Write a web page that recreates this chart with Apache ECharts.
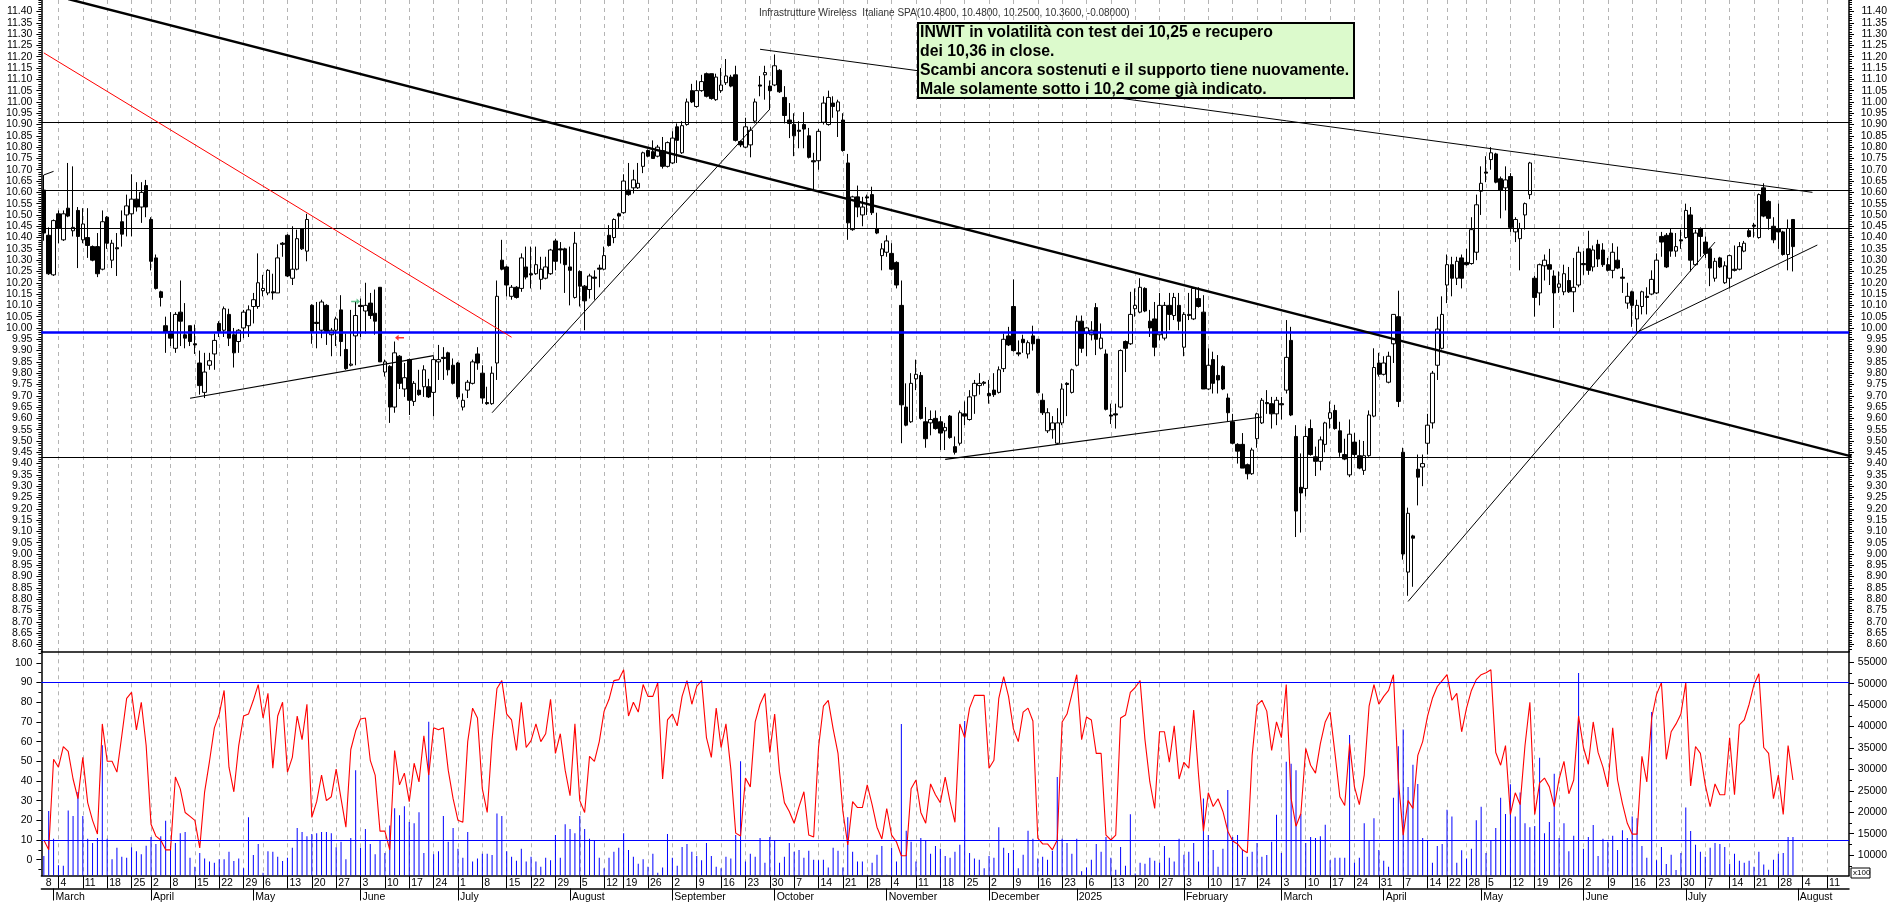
<!DOCTYPE html>
<html>
<head>
<meta charset="utf-8">
<title>INWIT</title>
<script src="https://cdn.jsdelivr.net/npm/echarts@6/dist/echarts.min.js"></script>
<style>
html,body{margin:0;padding:0;background:#fff;overflow:hidden}
#chart{width:1890px;height:903px}
</style>
</head>
<body>
<div id="chart"></div>
<script>
// candele giornaliere (10 valori per riga)
var opens = [
10.61,10.41,10.235,10.505,10.39,10.53,10.43,10.52,10.39,10.40,
10.36,10.36,10.26,10.49,10.30,10.355,10.47,10.50,10.505,10.57,
10.535,10.63,10.48,10.31,10.16,10.01,9.985,9.91,10.07,9.97,
10.01,9.93,9.845,9.715,9.835,9.885,10.02,9.99,10.06,9.97,
9.94,10.0,10.01,10.095,10.095,10.165,10.155,10.16,10.155,10.375,
10.41,10.22,10.26,10.44,10.34,10.10,10.025,9.99,10.10,9.97,
9.99,10.08,9.905,9.835,9.965,10.10,10.075,10.11,10.065,10.18,
9.805,9.83,9.65,9.875,9.73,9.86,9.675,9.725,9.74,9.74,
9.715,9.85,9.87,9.89,9.835,9.845,9.65,9.725,9.755,9.885,
9.80,9.67,9.665,9.845,10.30,10.27,10.14,10.18,10.175,10.27,
10.24,10.24,10.215,10.22,10.24,10.385,10.35,10.35,10.27,10.135,
10.25,10.185,10.17,10.225,10.265,10.26,10.41,10.40,10.505,10.51,
10.61,10.62,10.62,10.715,10.785,10.78,10.76,10.785,10.715,10.73,
10.89,10.775,10.90,11.05,10.98,11.05,11.125,11.125,11.01,11.05,
11.085,11.11,11.12,10.825,10.80,10.81,10.915,11.075,11.12,11.07,
11.075,11.14,11.02,10.92,10.90,10.875,10.90,10.85,10.74,10.74,
10.91,10.90,10.995,10.96,10.92,10.73,10.435,10.58,10.50,10.58,
10.59,10.44,10.32,10.335,10.33,10.29,10.10,9.65,9.585,9.775,
9.79,9.585,9.58,9.60,9.585,9.545,9.61,9.475,9.49,9.62,
9.595,9.70,9.745,9.76,9.71,9.725,9.715,9.82,9.965,10.095,
9.89,9.95,9.885,9.965,9.95,9.68,9.545,9.55,9.49,9.58,
9.755,9.715,9.835,10.03,9.975,9.97,10.09,9.91,9.885,9.615,
9.62,9.65,9.94,9.93,10.085,10.07,10.175,10.03,10.04,9.97,
9.955,10.10,10.055,10.10,9.915,10.06,10.04,10.13,10.07,9.73,
9.86,9.79,9.83,9.69,9.585,9.485,9.485,9.395,9.355,9.51,
9.58,9.67,9.665,9.62,9.665,9.725,9.945,9.52,9.295,9.29,
9.555,9.43,9.41,9.485,9.60,9.635,9.545,9.44,9.35,9.495,
9.435,9.37,9.435,9.61,9.845,9.795,9.76,9.93,10.05,9.45,
8.92,9.08,9.375,9.385,9.49,9.58,9.835,9.91,10.19,10.28,
10.22,10.31,10.29,10.285,10.335,10.605,10.69,10.745,10.77,10.66,
10.62,10.67,10.425,10.395,10.50,10.59,10.22,10.155,10.275,10.28,
10.23,10.18,10.16,10.21,10.16,10.19,10.285,10.35,10.27,10.37,
10.345,10.28,10.255,10.30,10.225,10.11,10.16,10.04,10.095,10.14,
10.15,10.155,10.405,10.41,10.42,10.34,10.39,10.40,10.50,10.28,
10.44,10.38,10.35,10.22,10.31,10.20,10.22,10.26,10.26,10.34,
10.43,10.455,10.40,10.62,10.56,10.45,10.44,10.425,10.325,10.48
];
var closes = [
10.42,10.24,10.475,10.44,10.505,10.495,10.445,10.405,10.46,10.365,
10.30,10.24,10.47,10.375,10.375,10.35,10.415,10.54,10.57,10.535,
10.60,10.535,10.295,10.175,10.135,9.98,9.955,10.06,10.03,9.955,
9.94,9.925,9.745,9.805,9.855,9.945,9.985,10.085,9.955,9.89,
9.99,10.07,10.08,10.125,10.20,10.175,10.255,10.155,10.31,10.37,
10.23,10.26,10.395,10.35,10.48,9.985,10.02,10.115,9.985,9.99,
10.04,9.94,9.82,9.84,10.055,10.095,10.10,10.055,10.03,9.85,
9.85,9.65,9.89,9.755,9.78,9.68,9.755,9.705,9.815,9.695,
9.86,9.86,9.865,9.815,9.755,9.695,9.68,9.76,9.85,9.845,
9.69,9.665,9.80,10.14,10.26,10.19,10.18,10.135,10.31,10.225,
10.235,10.28,10.26,10.27,10.345,10.295,10.345,10.28,10.255,10.375,
10.185,10.12,10.23,10.22,10.26,10.32,10.365,10.48,10.495,10.65,
10.59,10.655,10.64,10.775,10.76,10.75,10.80,10.715,10.82,10.84,
10.83,10.895,11.0,11.0,11.05,11.09,11.025,11.015,11.11,11.075,
11.115,11.07,10.83,10.81,10.89,10.875,11.0,11.07,11.13,11.05,
11.16,11.045,10.94,10.905,10.85,10.87,10.88,10.755,10.735,10.87,
10.995,11.02,10.98,11.0,10.785,10.465,10.58,10.535,10.535,10.575,
10.51,10.42,10.35,10.385,10.26,10.19,9.66,9.57,9.755,9.795,
9.60,9.51,9.595,9.555,9.535,9.56,9.515,9.45,9.625,9.61,
9.695,9.755,9.755,9.755,9.70,9.705,9.815,9.95,9.925,9.90,
9.885,9.935,9.935,9.93,9.715,9.625,9.625,9.58,9.58,9.73,
9.75,9.815,10.03,9.91,10.0,9.99,9.95,9.955,9.64,9.61,
9.615,9.90,9.91,10.06,10.10,10.18,10.075,10.0,9.915,10.10,
10.10,10.06,10.135,10.03,10.06,10.055,10.175,10.095,9.73,9.835,
9.755,9.77,9.73,9.625,9.49,9.455,9.38,9.355,9.46,9.62,
9.68,9.665,9.62,9.68,9.66,9.87,9.615,9.19,9.27,9.52,
9.44,9.41,9.505,9.58,9.625,9.555,9.45,9.42,9.53,9.44,
9.38,9.435,9.615,9.825,9.795,9.845,9.875,10.06,9.675,9.0,
9.18,9.07,9.34,9.40,9.57,9.80,9.995,10.06,10.28,10.22,
10.295,10.22,10.28,10.435,10.545,10.64,10.685,10.775,10.645,10.61,
10.655,10.445,10.48,10.44,10.55,10.73,10.135,10.28,10.30,10.26,
10.155,10.195,10.24,10.16,10.18,10.335,10.28,10.255,10.345,10.305,
10.28,10.255,10.335,10.265,10.22,10.14,10.10,10.10,10.16,10.135,
10.215,10.30,10.38,10.27,10.34,10.36,10.385,10.52,10.30,10.42,
10.405,10.33,10.265,10.295,10.27,10.275,10.32,10.255,10.36,10.375,
10.405,10.45,10.59,10.495,10.485,10.39,10.425,10.325,10.44,10.36
];
var lows = [
10.386,10.235,10.23,10.375,10.385,10.49,10.405,10.265,10.375,10.31,
10.295,10.225,10.255,10.35,10.265,10.23,10.36,10.405,10.405,10.515,
10.465,10.49,10.255,10.17,10.095,9.89,9.92,9.89,9.92,9.91,
9.92,9.885,9.705,9.69,9.815,9.815,9.96,9.96,9.92,9.825,
9.89,9.955,9.96,10.02,10.085,10.14,10.145,10.125,10.155,10.315,
10.225,10.19,10.255,10.345,10.295,9.93,9.91,9.955,9.925,9.875,
9.92,9.875,9.815,9.83,9.835,9.96,9.975,10.04,9.97,9.85,
9.785,9.58,9.625,9.73,9.695,9.615,9.655,9.70,9.695,9.69,
9.61,9.77,9.77,9.79,9.75,9.685,9.635,9.69,9.75,9.815,
9.665,9.66,9.66,9.77,10.255,10.14,10.125,10.13,10.16,10.215,
10.175,10.235,10.17,10.215,10.235,10.255,10.285,10.155,10.10,10.13,
10.095,9.99,10.13,10.125,10.18,10.255,10.36,10.375,10.44,10.505,
10.585,10.595,10.615,10.685,10.755,10.75,10.755,10.705,10.71,10.725,
10.73,10.77,10.895,10.995,10.975,11.045,11.02,11.01,11.005,11.04,
11.075,11.065,10.825,10.80,10.795,10.755,10.905,11.025,11.01,10.965,
11.07,11.04,10.905,10.84,10.76,10.795,10.795,10.75,10.61,10.70,
10.90,10.895,10.93,10.845,10.78,10.39,10.43,10.49,10.45,10.50,
10.50,10.415,10.255,10.315,10.255,10.175,9.49,9.565,9.58,9.725,
9.595,9.47,9.525,9.55,9.46,9.46,9.51,9.44,9.48,9.57,
9.59,9.62,9.705,9.745,9.665,9.695,9.71,9.805,9.92,9.895,
9.875,9.89,9.865,9.90,9.71,9.615,9.535,9.51,9.485,9.57,
9.61,9.71,9.83,9.89,9.875,9.945,9.88,9.905,9.635,9.575,
9.555,9.645,9.805,9.925,10.05,10.065,10.07,9.96,9.875,9.945,
9.945,9.99,10.035,9.99,9.875,10.035,10.035,10.09,9.73,9.725,
9.71,9.71,9.725,9.585,9.485,9.40,9.38,9.33,9.35,9.47,
9.575,9.62,9.555,9.57,9.595,9.71,9.61,9.075,9.095,9.255,
9.435,9.345,9.37,9.45,9.555,9.55,9.43,9.415,9.34,9.43,
9.375,9.35,9.43,9.605,9.785,9.79,9.755,9.845,9.65,8.975,
8.815,8.855,9.215,9.30,9.44,9.555,9.77,9.905,10.11,10.14,
10.19,10.175,10.275,10.28,10.30,10.50,10.645,10.70,10.64,10.485,
10.52,10.425,10.38,10.255,10.435,10.57,10.05,10.10,10.21,10.19,
10.0,10.155,10.145,10.155,10.07,10.18,10.235,10.235,10.25,10.27,
10.27,10.25,10.22,10.26,10.155,10.085,10.005,9.98,10.06,10.06,
10.145,10.15,10.315,10.265,10.315,10.315,10.35,10.395,10.25,10.275,
10.315,10.31,10.185,10.205,10.265,10.195,10.175,10.25,10.255,10.335,
10.40,10.40,10.395,10.49,10.435,10.375,10.35,10.32,10.255,10.25
];
var highs = [
10.677,10.445,10.48,10.52,10.52,10.73,10.715,10.535,10.53,10.53,
10.365,10.42,10.52,10.495,10.39,10.42,10.52,10.59,10.68,10.645,
10.645,10.655,10.49,10.325,10.165,10.05,10.07,10.07,10.21,10.11,
10.01,10.015,9.90,9.89,9.89,9.975,10.03,10.095,10.085,10.0,
9.995,10.08,10.10,10.155,10.33,10.235,10.26,10.24,10.37,10.38,
10.415,10.45,10.435,10.44,10.505,10.105,10.115,10.125,10.105,10.0,
10.05,10.145,9.975,10.08,10.115,10.13,10.20,10.155,10.17,10.18,
9.86,9.835,9.94,9.88,9.845,9.865,9.765,9.815,9.835,9.775,
9.875,9.925,9.915,9.895,9.865,9.85,9.71,9.77,9.86,9.915,
9.835,9.74,9.83,10.21,10.39,10.275,10.19,10.185,10.33,10.36,
10.36,10.36,10.315,10.315,10.35,10.395,10.38,10.355,10.36,10.425,
10.255,10.19,10.24,10.255,10.28,10.36,10.455,10.485,10.51,10.68,
10.73,10.70,10.73,10.78,10.79,10.83,10.81,10.845,10.825,10.87,
10.905,10.915,11.015,11.08,11.095,11.12,11.13,11.125,11.125,11.15,
11.19,11.12,11.16,10.83,10.93,10.89,11.015,11.115,11.16,11.095,
11.21,11.145,11.07,10.995,10.95,10.915,10.955,10.885,10.775,10.88,
11.025,11.05,11.025,11.01,10.95,10.77,10.585,10.63,10.58,10.59,
10.625,10.51,10.375,10.41,10.375,10.295,10.21,9.755,9.80,9.86,
9.805,9.65,9.635,9.635,9.61,9.58,9.615,9.52,9.635,9.675,
9.725,9.77,9.80,9.765,9.77,9.80,9.83,9.975,10.005,10.215,
9.945,9.97,9.945,10.01,9.95,9.71,9.645,9.61,9.645,9.755,
9.76,9.82,10.055,10.055,10.005,10.03,10.11,10.02,9.905,9.665,
9.665,9.905,9.945,10.16,10.175,10.22,10.18,10.08,10.115,10.155,
10.115,10.155,10.155,10.155,10.07,10.155,10.18,10.18,10.145,9.91,
9.895,9.88,9.835,9.71,9.62,9.49,9.535,9.40,9.47,9.625,
9.69,9.725,9.695,9.695,9.695,10.035,10.005,9.57,9.445,9.565,
9.595,9.475,9.52,9.585,9.675,9.66,9.585,9.51,9.595,9.535,
9.505,9.50,9.635,9.91,9.89,9.875,9.895,10.06,10.165,9.47,
9.205,9.085,9.44,9.44,9.62,9.81,10.05,10.14,10.325,10.315,
10.315,10.325,10.35,10.49,10.59,10.715,10.76,10.80,10.775,10.67,
10.715,10.685,10.49,10.465,10.555,10.735,10.23,10.285,10.325,10.35,
10.255,10.25,10.28,10.27,10.31,10.36,10.34,10.43,10.365,10.39,
10.375,10.31,10.375,10.36,10.265,10.20,10.165,10.125,10.165,10.18,
10.255,10.33,10.425,10.42,10.44,10.42,10.435,10.55,10.535,10.435,
10.445,10.405,10.355,10.31,10.315,10.295,10.325,10.365,10.38,10.385,
10.44,10.465,10.595,10.64,10.565,10.49,10.55,10.43,10.48,10.48
];
var volumes = [
9800,20300,13800,7600,7500,20400,19100,24700,19100,13800,
12800,14000,35600,13800,9000,11700,9600,9400,11800,10900,
10200,12200,14200,12600,14400,18000,12100,12800,15100,15400,
9400,7300,10500,9200,8500,8200,9000,9000,10800,8600,
9200,6900,18800,10000,12600,5900,10900,10800,9600,8600,
9400,11700,16300,15400,14400,14900,15100,15400,15400,15100,
11800,13100,9000,14000,29800,11700,16100,12600,10200,13400,
10500,16900,20900,19300,21400,17700,17400,20000,10500,41100,
10200,10900,19100,13100,16300,11500,9400,15400,8500,9200,
10300,10300,10000,19700,19100,10900,9600,8700,11500,8500,
9600,8500,7300,9400,8800,14700,9400,17200,16100,15100,
19100,16100,13800,13500,9400,6900,9400,10800,11700,15100,
11200,9600,8000,9000,7300,10300,5900,7100,14900,9400,
7500,11900,12600,10800,9800,8800,12800,9800,7300,6900,
9600,9200,14700,31900,8500,10300,9600,14000,8200,14200,
13400,8200,9600,12800,10800,11200,9400,11000,8900,8800,
8900,7100,11700,11000,7100,18800,10800,8500,8500,5400,
8200,10100,12100,5400,11700,8500,40600,15700,13100,8500,
14000,13400,10300,12100,11500,9800,9400,10800,12400,41300,
10500,9200,8900,6900,9800,9400,16500,11700,10500,11200,
6900,10100,15700,13800,9200,9600,8900,11000,28200,13800,
12800,10300,13800,6200,7100,8900,12600,10800,14200,9400,
6600,11900,7500,19500,5700,8200,8000,9400,8700,8200,
12100,9400,8500,13800,10100,10800,12800,8500,23200,14700,
11200,7300,11500,25200,14200,14700,11200,9600,10800,12800,
9600,10000,13100,19400,10500,31800,31300,29800,19600,12800,
14200,14000,14400,17100,8800,9400,9400,9400,38000,8200,
9400,17400,13400,18600,11200,8700,7300,23400,35400,39300,
25900,31100,26600,14000,13400,8200,12100,12600,20600,19000,
8200,11100,9200,11500,18100,21300,10500,13400,16300,23400,
19600,26500,19000,24600,17400,16500,16800,32700,15100,17700,
29000,14000,17400,10900,14500,52500,11500,14200,17000,9800,
13800,13100,14500,11200,15800,14000,19000,18600,12100,9400,
43400,8800,11900,7900,10100,6500,10500,21100,15600,12400,
10800,9600,11700,12800,12600,11900,8000,10300,8700,8200,
8700,7300,10800,7800,6600,8900,10300,10500,14200,14200
];
var stochastic = [
10,5,51,47,57.5,55,41,31,52,29,
20,13,69,50,50,44.5,63,82,85,66,
80,58,18,12,10,5,5,42,36,24,
22,20,6,34.5,50,67,74,86,47,34.5,
58,73,74,81,89,72,84.5,46.5,73,80,
44.5,52,73,61,79,21.5,29.5,43,30,32,
46,31,16.5,56,65.5,71.5,72,50.5,43,14.5,
14.5,5,55.5,38,44,29.5,49,39.5,63,43,
67,66,67,45.5,31,20,19,60,77,72,
36,24,61,87,91,74,71,55.5,80,57,
60.5,69,60,64,81.5,54,64,45.5,32.5,69,
30,24,52.5,50,60,75.5,81.5,91,91.5,96.5,
73,80,75,89,83,83,90,41,71,74,
68,83,91,79,88,91,62,52,77,57,
69,46,13.5,12,41.5,37,70,79,84.5,54.5,
74,44.5,29,24.5,18.5,27,34.5,12.5,11.5,57,
78,81,66.5,54,24.5,7.5,29.5,26.5,26.5,38,
28,16.5,10.5,26,12.5,9,2,2,36,40.5,
24,18.5,38.5,33,29,42,29.5,19,69,62,
77,83.5,83.5,83.5,46.5,50.5,82,93,83,66.5,
60,75,77,70.5,11,8,8,5,10,70,
74,84,94,61,72.5,71,54,54,12.5,10,
12.5,72,73.5,85,87.5,91,61,39.5,26,65,
65,49.5,68,41,49.5,46.5,76,43,14.5,34,
27,31,24.5,14.5,9.5,8,5,3.5,53,78.5,
81,75.5,55.5,70,62,89,31,17,23.5,56.5,
48,44,59,70,75,54,32,27.5,59,37,
28,43,78,89,79,83,86,94,41,12.5,
30,26,53,60,73,82,88,91,94,81,
84.5,65,77,86,91.5,94,95,96.5,54.5,48,
58,23,34,28,58,80,23,39,41.5,37,
27,41,50,33.5,40.5,73,57,48.5,70,54.5,
47,37,67,40.5,28.5,18.5,13,13,52.5,39.5,
72,84,90,51,65,69,74,90,37.5,57.5,
54,38,27,38.5,33,33,62,33,68.5,71,
79,89,94.5,57,54,31,43,23,58,40.5
];

// calendario: giorni di borsa dal 28/2/2024, senza le chiusure
var slotCount = 371;
var holidays = ['2024-03-29','2024-04-01','2024-05-01','2024-08-15','2024-12-24','2024-12-25','2024-12-26','2024-12-31','2025-01-01','2025-04-18','2025-04-21','2025-05-01','2025-08-15'];
var dates = [];
for (var t = Date.UTC(2024, 1, 28); dates.length < slotCount; t += 86400000) {
    var d = new Date(t), s = d.toISOString().slice(0, 10);
    if (d.getUTCDay() % 6 !== 0 && holidays.indexOf(s) < 0) dates.push(s);
}
var weekDates = ['2024-03-04','2024-03-11','2024-03-18','2024-03-25','2024-04-02','2024-04-08','2024-04-15','2024-04-22','2024-04-29','2024-05-06','2024-05-13','2024-05-20','2024-05-27','2024-06-03','2024-06-10','2024-06-17','2024-06-24','2024-07-01','2024-07-08','2024-07-15','2024-07-22','2024-07-29','2024-08-05','2024-08-12','2024-08-19','2024-08-26','2024-09-02','2024-09-09','2024-09-16','2024-09-23','2024-09-30','2024-10-07','2024-10-14','2024-10-21','2024-10-28','2024-11-04','2024-11-11','2024-11-18','2024-11-25','2024-12-02','2024-12-09','2024-12-16','2024-12-23','2025-01-06','2025-01-13','2025-01-20','2025-01-27','2025-02-03','2025-02-10','2025-02-17','2025-02-24','2025-03-03','2025-03-10','2025-03-17','2025-03-24','2025-03-31','2025-04-07','2025-04-14','2025-04-22','2025-04-28','2025-05-05','2025-05-12','2025-05-19','2025-05-26','2025-06-02','2025-06-09','2025-06-16','2025-06-23','2025-06-30','2025-07-07','2025-07-14','2025-07-21','2025-07-28','2025-08-04','2025-08-11'];
var monthDates = ['2024-03-01','2024-04-02','2024-05-02','2024-06-03','2024-07-01','2024-08-01','2024-09-02','2024-10-01','2024-11-01','2024-12-02','2025-01-02','2025-02-03','2025-03-03','2025-04-01','2025-05-02','2025-06-02','2025-07-01','2025-08-01'];
var monthLabels = ['March','April','May','June','July','August','September','October','November','December','2025','February','March','April','May','June','July','August'];

// tacche assi
var priceTicks = [];
var priceMinorTicks = [];
for (var p = 860; p <= 1140; p += 5) priceTicks.push(p / 100);
for (var q = 858; q <= 1145; q += 1) priceMinorTicks.push(q / 100);
var stochTicks = [0,10,20,30,40,50,60,70,80,90,100];
var stochMinorTicks = [-5,5,15,25,35,45,55,65,75,85,95,105];
var volumeTicks = [10000,15000,20000,25000,30000,35000,40000,45000,50000,55000];
var volumeMinorTicks = [7500,12500,17500,22500,27500,32500,37500,42500,47500,52500];

// livelli orizzontali e trendline
var blackLevels = [10.914,10.609,10.437,9.434];
var blueLevel = 9.982;
var stochLevels = [90,10];
var thickTrend = [[5,11.455],[371,9.432]];
var redTrend = [[0,11.217],[96,9.959]];
var upperTrend = [[147,11.233],[363,10.60]];
var stubTrend = [[0,10.677],[2,10.693]];
var riseA = [[30,9.689],[80,9.878]];
var riseB = [[92,9.625],[149,10.968]];
var riseC = [[185,9.419],[250,9.606]];
var riseD = [[280,8.79],[343,10.38]];
var riseE = [[327,9.981],[364,10.367]];
var greenArrow = [[64,10.117]];
var redArrow = [[73,9.957]];

var titleText = 'Infrastrutture Wireless  Italiane SPA(10.4800, 10.4800, 10.2500, 10.3600, -0.08000)';
var noteText = 'INWIT in volatilità con test dei 10,25 e recupero\ndei 10,36 in close.\nScambi ancora sostenuti e il supporto tiene nuovamente.\nMale solamente sotto i 10,2 come già indicato.';

var candles = opens.map(function (o, i) { return [o, closes[i], lows[i], highs[i]]; });

var font = 'Liberation Sans';
var gridDash = {show: true, alignWithLabel: true, interval: isWeek, lineStyle: {color: '#b4b4b4', width: 1, type: [4, 4]}};

function isWeek(i, v) { return weekDates.indexOf(v) >= 0; }
function isMonth(i, v) { return monthDates.indexOf(v) >= 0; }

function lineSeries(data, color, width) {
    return {type: 'line', xAxisIndex: 0, yAxisIndex: 0, data: data, showSymbol: false, silent: true, z: 6,
        lineStyle: {color: color, width: width}, itemStyle: {color: color}};
}
function levelLine(v, color, width) {
    return {yAxis: v, lineStyle: {color: color, width: width, type: 'solid'}};
}
// asse y "solo tacche" sovrapposto a quello con le etichette
function tickAxis(grid, side, min, max, values, len) {
    return {type: 'value', gridIndex: grid, position: side, min: min, max: max, scale: true, splitLine: {show: false},
        axisLine: {show: false}, axisLabel: {show: false},
        axisTick: {show: true, length: len, customValues: values, lineStyle: {color: '#000', width: 1}}};
}
function labelAxis(grid, side, min, max, values, len, fmt) {
    return {type: 'value', gridIndex: grid, position: side, min: min, max: max, scale: true, splitLine: {show: false},
        axisLine: {show: true, onZero: false, lineStyle: {color: '#000', width: 1.5}},
        axisTick: {show: true, length: len, customValues: values, lineStyle: {color: '#000', width: 1}},
        axisLabel: {show: true, customValues: values, formatter: fmt, color: '#000', fontFamily: font, fontSize: 10.5,
            align: 'right', margin: side === 'left' ? 9 : 38, showMinLabel: true, showMaxLabel: true}};
}

var priceMin = 8.5695, priceMax = 11.451;
var stochMin = -8.04, stochMax = 105.9;
var volMin = 5230, volMax = 57545;

var chart = echarts.init(document.getElementById('chart'));
chart.setOption({
    animation: false,
    backgroundColor: '#fff',
    textStyle: {fontFamily: font},
    title: {text: titleText, left: 754, top: 3, textStyle: {fontSize: 10, fontWeight: 'normal', color: '#333', fontFamily: font}},
    grid: [
        {left: 41.4, right: 40, top: 0, height: 651.3},
        {left: 41.4, right: 40, top: 651.3, height: 226.7}
    ],
    xAxis: [
        {type: 'category', gridIndex: 0, data: dates, boundaryGap: true, position: 'bottom',
            axisLine: {show: true, onZero: false, lineStyle: {color: '#000', width: 1.5}}, axisTick: {show: false}, axisLabel: {show: false}, splitLine: gridDash},
        {type: 'category', gridIndex: 1, data: dates, boundaryGap: true, position: 'bottom',
            axisLine: {show: true, onZero: false, lineStyle: {color: '#000', width: 1.5}},
            axisTick: {show: true, alignWithLabel: true, interval: isWeek, length: 13, lineStyle: {color: '#000', width: 1}},
            axisLabel: {show: true, interval: function (i, v) { return i === 0 || isWeek(i, v); },
                formatter: function (v, i) { return i === 0 ? '8' : String(Number(v.slice(8))); },
                align: 'left', margin: 2.5, padding: [0, 0, 0, 2], color: '#000', fontFamily: font, fontSize: 10.5},
            splitLine: gridDash},
        {type: 'category', gridIndex: 1, data: dates, boundaryGap: true, position: 'bottom', offset: 13,
            axisLine: {show: true, onZero: false, lineStyle: {color: '#000', width: 1.5}},
            axisTick: {show: true, alignWithLabel: true, interval: isMonth, length: 12, lineStyle: {color: '#000', width: 1}},
            axisLabel: {show: true, interval: isMonth,
                formatter: function (v) { return monthLabels[monthDates.indexOf(v)]; },
                align: 'left', margin: 3.5, padding: [0, 0, 0, 2], color: '#000', fontFamily: font, fontSize: 10.5},
            splitLine: {show: false}}
    ],
    yAxis: [
        labelAxis(0, 'left', priceMin, priceMax, priceTicks, 5, function (v) { return Number(v).toFixed(2); }),
        tickAxis(0, 'left', priceMin, priceMax, priceMinorTicks, 3),
        labelAxis(0, 'right', priceMin, priceMax, priceTicks, 5, function (v) { return Number(v).toFixed(2); }),
        tickAxis(0, 'right', priceMin, priceMax, priceMinorTicks, 3),
        labelAxis(1, 'left', stochMin, stochMax, stochTicks, 5, function (v) { return String(Math.round(v)); }),
        tickAxis(1, 'left', stochMin, stochMax, stochMinorTicks, 3),
        labelAxis(1, 'right', volMin, volMax, volumeTicks, 5, function (v) { return String(Math.round(v)); }),
        tickAxis(1, 'right', volMin, volMax, volumeMinorTicks, 3)
    ],
    series: [
        {type: 'candlestick', name: 'INWIT', xAxisIndex: 0, yAxisIndex: 0, data: candles, barWidth: 4, z: 2, silent: true,
            itemStyle: {color: '#fff', color0: '#000', borderColor: '#000', borderColor0: '#000', borderColorDoji: '#000', borderWidth: 1},
            markLine: {silent: true, symbol: ['none', 'none'], label: {show: false}, animation: false, z: 5,
                data: blackLevels.map(function (v) { return levelLine(v, '#000', 1.2); }).concat([levelLine(blueLevel, '#0000ff', 2.5)])}},
        lineSeries(thickTrend, '#000', 2.5),
        lineSeries(redTrend, '#ff0000', 1),
        lineSeries(upperTrend, '#000', 1),
        lineSeries(stubTrend, '#000', 1),
        lineSeries(riseA, '#000', 1.2),
        lineSeries(riseB, '#000', 1),
        lineSeries(riseC, '#000', 1.2),
        lineSeries(riseD, '#000', 1),
        lineSeries(riseE, '#000', 1),
        {type: 'scatter', xAxisIndex: 0, yAxisIndex: 0, data: greenArrow, z: 7, silent: true, symbol: 'path://M0 3H6V0L10 4L6 8V5H0Z', symbolSize: [9, 6], itemStyle: {color: '#3cb371'}},
        {type: 'scatter', xAxisIndex: 0, yAxisIndex: 0, data: redArrow, z: 7, silent: true, symbol: 'path://M10 3H4V0L0 4L4 8V5H10Z', symbolSize: [9, 6], itemStyle: {color: '#ff0000'}},
        {type: 'bar', name: 'Volume', xAxisIndex: 1, yAxisIndex: 6, data: volumes, barWidth: 1, z: 2, silent: true, itemStyle: {color: '#0000ff'}},
        {type: 'line', name: 'Stochastic', xAxisIndex: 1, yAxisIndex: 4, data: stochastic, showSymbol: false, silent: true, z: 3,
            lineStyle: {color: '#ff0000', width: 1.1},
            markLine: {silent: true, symbol: ['none', 'none'], label: {show: false}, animation: false,
                data: stochLevels.map(function (v) { return levelLine(v, '#0000ff', 1.2); })}}
    ],
    graphic: [
        {type: 'rect', z: 100, shape: {x: 918, y: 23, width: 436, height: 75}, style: {fill: '#dcfacc', stroke: '#000', lineWidth: 2}},
        {type: 'text', z: 101, x: 920, y: 23, style: {text: noteText, font: 'bold 15.8px "Liberation Sans"', fill: '#000', lineHeight: 19}},
        {type: 'rect', z: 100, shape: {x: 1851, y: 868, width: 19, height: 10}, style: {fill: '#fff', stroke: '#000', lineWidth: 1}},
        {type: 'text', z: 101, x: 1853, y: 869, style: {text: 'x100', font: '8px "Liberation Sans"', fill: '#000'}}
    ]
});
</script>
</body>
</html>
